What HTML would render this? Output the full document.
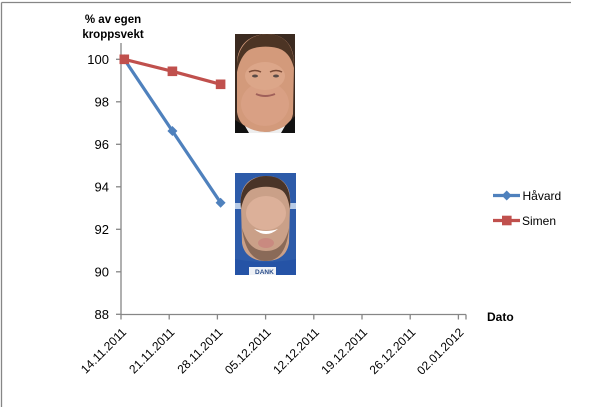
<!DOCTYPE html>
<html><head><meta charset="utf-8"><style>
html,body{margin:0;padding:0;background:#fff;}
svg{display:block;}
text{font-family:"Liberation Sans",sans-serif;fill:#000;}
</style></head><body>
<svg width="616" height="407" viewBox="0 0 616 407" xmlns="http://www.w3.org/2000/svg">
<rect x="0" y="0" width="616" height="407" fill="#fff"/>
<!-- chart border (top/left visible) -->
<line x1="1.5" y1="2.5" x2="571" y2="2.5" stroke="#868686" stroke-width="1.3"/>
<line x1="1.5" y1="2.5" x2="1.5" y2="407" stroke="#868686" stroke-width="1.3"/>

<!-- title -->
<text x="113" y="23" text-anchor="middle" font-weight="bold" font-size="11.5">% av egen</text>
<text x="113" y="38" text-anchor="middle" font-weight="bold" font-size="11.5">kroppsvekt</text>

<!-- axes -->
<g stroke="#868686" stroke-width="1.3" fill="none">
<line x1="121" y1="43" x2="121" y2="314.5"/>
<line x1="121" y1="314.5" x2="466" y2="314.5"/>
<line x1="116" y1="59.3" x2="121" y2="59.3"/>
<line x1="116" y1="101.8" x2="121" y2="101.8"/>
<line x1="116" y1="144.3" x2="121" y2="144.3"/>
<line x1="116" y1="186.8" x2="121" y2="186.8"/>
<line x1="116" y1="229.3" x2="121" y2="229.3"/>
<line x1="116" y1="271.8" x2="121" y2="271.8"/>
<line x1="116" y1="314.3" x2="121" y2="314.3"/>
<line x1="121" y1="314.5" x2="121" y2="319.5"/>
<line x1="169.2" y1="314.5" x2="169.2" y2="319.5"/>
<line x1="217.4" y1="314.5" x2="217.4" y2="319.5"/>
<line x1="265.6" y1="314.5" x2="265.6" y2="319.5"/>
<line x1="313.8" y1="314.5" x2="313.8" y2="319.5"/>
<line x1="362" y1="314.5" x2="362" y2="319.5"/>
<line x1="410.2" y1="314.5" x2="410.2" y2="319.5"/>
<line x1="458.4" y1="314.5" x2="458.4" y2="319.5"/>
<line x1="466" y1="314.5" x2="466" y2="319.5"/>
</g>

<!-- y labels -->
<g font-size="13" text-anchor="end">
<text x="109" y="64">100</text>
<text x="109" y="106.5">98</text>
<text x="109" y="149">96</text>
<text x="109" y="191.5">94</text>
<text x="109" y="234">92</text>
<text x="109" y="276.5">90</text>
<text x="109" y="319">88</text>
</g>

<!-- x labels -->
<g font-size="12" text-anchor="end">
<text transform="translate(127,333) rotate(-45)">14.11.2011</text>
<text transform="translate(175.2,333) rotate(-45)">21.11.2011</text>
<text transform="translate(223.4,333) rotate(-45)">28.11.2011</text>
<text transform="translate(271.6,333) rotate(-45)">05.12.2011</text>
<text transform="translate(319.8,333) rotate(-45)">12.12.2011</text>
<text transform="translate(368,333) rotate(-45)">19.12.2011</text>
<text transform="translate(416.2,333) rotate(-45)">26.12.2011</text>
<text transform="translate(464.4,333) rotate(-45)">02.01.2012</text>
</g>

<text x="487" y="321" font-weight="bold" font-size="12">Dato</text>

<!-- Håvard series -->
<polyline points="124.3,59.3 172.4,131 220.6,202.7" fill="none" stroke="#4F81BD" stroke-width="3.2" stroke-linejoin="round"/>
<g fill="#4F81BD">
<polygon points="124.3,54.3 129.3,59.3 124.3,64.3 119.3,59.3"/>
<polygon points="172.4,126 177.4,131 172.4,136 167.4,131"/>
<polygon points="220.6,197.7 225.6,202.7 220.6,207.7 215.6,202.7"/>
</g>

<!-- Simen series -->
<polyline points="124.3,59.3 172.4,71.3 220.6,84.3" fill="none" stroke="#C0504D" stroke-width="3.2" stroke-linejoin="round"/>
<g fill="#C0504D">
<rect x="119.5" y="54.5" width="9.6" height="9.6"/>
<rect x="167.6" y="66.5" width="9.6" height="9.6"/>
<rect x="215.8" y="79.5" width="9.6" height="9.6"/>
</g>

<!-- legend -->
<line x1="493" y1="195.5" x2="520" y2="195.5" stroke="#4F81BD" stroke-width="3.2"/>
<polygon points="506.7,190.5 511.7,195.5 506.7,200.5 501.7,195.5" fill="#4F81BD"/>
<text x="522.5" y="200" font-size="12">Håvard</text>
<line x1="493" y1="220.5" x2="520" y2="220.5" stroke="#C0504D" stroke-width="3.2"/>
<rect x="502" y="215.7" width="9.6" height="9.6" fill="#C0504D"/>
<text x="522" y="225" font-size="12">Simen</text>

<!-- photo 1 (Simen) -->
<svg x="235" y="34" width="60" height="99" viewBox="0 0 60 99">
<rect width="60" height="99" fill="#3b2a20"/>
<path d="M2,30 C2,8 18,0 32,0 C48,0 60,10 59,32 L58,80 C55,94 45,98 30,98 C15,98 4,92 2,78 Z" fill="#d39a7b"/>
<path d="M2,38 C0,12 16,0 32,0 C48,0 60,10 59,34 C56,22 50,16 42,14 C34,12 22,12 14,16 C8,20 4,28 2,38 Z" fill="#4c3424"/>
<ellipse cx="30" cy="70" rx="24" ry="22" fill="#d9a084"/>
<ellipse cx="30" cy="42" rx="20" ry="14" fill="#dca689"/>
<path d="M14,38 Q20,35 26,38" stroke="#7a4a36" stroke-width="1.5" fill="none"/>
<path d="M35,38 Q41,35 47,38" stroke="#7a4a36" stroke-width="1.5" fill="none"/>
<ellipse cx="20" cy="42" rx="3" ry="1.5" fill="#5a4a46"/>
<ellipse cx="41" cy="42" rx="3" ry="1.5" fill="#5a4a46"/>
<path d="M21,60 Q30,64 40,60" stroke="#a0605a" stroke-width="2" fill="none"/>
<path d="M0,86 L10,92 L14,99 L0,99 Z" fill="#111"/>
<path d="M60,82 L50,92 L46,99 L60,99 Z" fill="#111"/>
<path d="M10,92 Q30,104 50,92 L46,99 L14,99 Z" fill="#eeeeee"/>
</svg>

<!-- photo 2 (Håvard) -->
<svg x="235" y="173" width="61" height="102" viewBox="0 0 61 102">
<rect width="61" height="102" fill="#2d5ba9"/>
<rect x="0" y="30" width="61" height="6" fill="#b8cbe6"/>
<path d="M6,32 C4,10 18,3 31,3 C45,3 57,10 55,32 L54,70 C52,82 44,88 31,88 C18,88 9,82 7,70 Z" fill="#caa088"/>
<path d="M6,36 C3,12 18,3 31,3 C45,3 57,10 55,36 C53,24 50,18 44,16 C36,13 26,13 18,16 C12,18 8,26 6,36 Z" fill="#4a3428"/>
<ellipse cx="31" cy="40" rx="20" ry="17" fill="#dcb099"/>
<path d="M7,55 C10,80 20,88 31,88 C42,88 52,80 54,55 C50,72 42,78 31,78 C20,78 12,72 7,55 Z" fill="#8a6a58"/>
<path d="M19,56 Q31,66 43,56 Q31,60 19,56 Z" fill="#ffffff"/>
<ellipse cx="31" cy="70" rx="8" ry="5" fill="#c98a80"/>
<path d="M0,86 Q30,92 61,86 L61,102 L0,102 Z" fill="#2553a6"/>
<rect x="14" y="94" width="27" height="8" fill="#eef1f6"/>
<text x="20" y="101" font-size="6.5" font-weight="bold" style="fill:#2a4d8a">DANK</text>
</svg>
</svg>
</body></html>
